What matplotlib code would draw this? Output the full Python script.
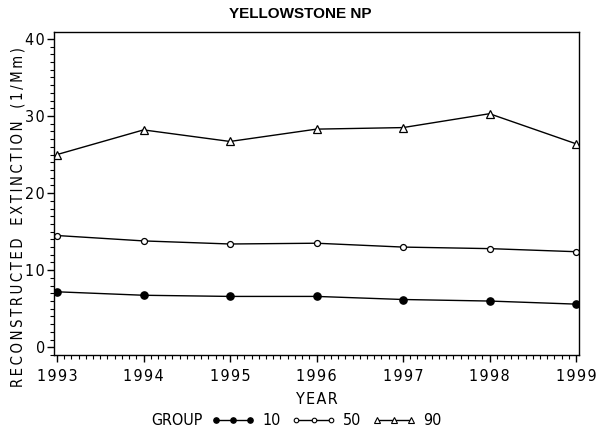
import numpy as np
import matplotlib
matplotlib.use("Agg")
import matplotlib.pyplot as plt
from matplotlib.ticker import MultipleLocator
from matplotlib.lines import Line2D

years = [1993, 1994, 1995, 1996, 1997, 1998, 1999]
group_10 = [7.2, 6.75, 6.6, 6.6, 6.2, 6.0, 5.6]
group_50 = [14.5, 13.8, 13.4, 13.5, 13.0, 12.8, 12.4]
group_90 = [25.0, 28.2, 26.7, 28.3, 28.5, 30.3, 26.4]
groups = ['10', '50', '90']
yticks = [0, 10, 20, 30, 40]

lab = dict(family='DejaVu Sans', fontsize=11.5, fontstretch='condensed')
thin = '\u2009'
hair = '\u200a'

fig = plt.figure(figsize=(6, 4.3), dpi=100)
ax = fig.add_axes([0.09, 0.1744, 0.875, 0.7512])

ax.plot(years, group_10, color='black', lw=1, marker='o', ms=5.2,
        mfc='black', mec='black')
ax.plot(years, group_50, color='black', lw=1, marker='o', ms=4.3,
        mfc='white', mec='black', mew=0.9)
ax.plot(years, group_90, color='black', lw=1, marker='^', ms=5.5,
        mfc='white', mec='black', mew=0.9)

ax.set_xlim(1993 - 3 / 86.5, 1999 + 3 / 86.5)
ax.set_ylim(-1.0, 40.9)
ax.set_xticks(years)
ax.set_yticks(yticks)
ax.xaxis.set_minor_locator(MultipleLocator(1 / 12))
ax.yaxis.set_minor_locator(MultipleLocator(1))
ax.tick_params(which='major', direction='out', length=5, width=1, color='black')
ax.tick_params(which='minor', direction='out', length=3, width=0.8, color='black')
ax.tick_params(axis='x', which='major', pad=5)
ax.tick_params(axis='y', which='major', pad=1.5)
ax.set_xticklabels([hair.join(str(y)) for y in years], **lab)
ax.set_yticklabels([hair.join(str(v)) for v in yticks], **lab)
for sp in ax.spines.values():
    sp.set_linewidth(1)

ax.set_xlabel(hair.join('YEAR'), labelpad=6, **lab)
ylab = '   '.join(thin.join(w) for w in ['RECONSTRUCTED', 'EXTINCTION', '(1/Mm)'])
ax.set_ylabel(ylab, family='DejaVu Sans', fontsize=10.6, fontstretch='condensed')
ax.yaxis.set_label_coords(-0.055, 0.427)
fig.text(0.5, 0.968, 'YELLOWSTONE NP', ha='center', va='center',
         fontsize=11, fontweight='bold', family='Liberation Sans')

fig.text(0.252, 0.021, 'GROUP', ha='left', va='center', **lab)
handles = [
    Line2D([], [], color='black', lw=1, marker='o', ms=3.8, mfc='black', mec='black'),
    Line2D([], [], color='black', lw=1, marker='o', ms=3.3, mfc='white', mec='black', mew=0.8),
    Line2D([], [], color='black', lw=1, marker='^', ms=4, mfc='white', mec='black', mew=0.8),
]
fig.legend(handles, groups, loc='center left',
           bbox_to_anchor=(211 / 600, 0.021), ncol=3, numpoints=3, frameon=False,
           borderpad=0, borderaxespad=0,
           handlelength=2.75, handletextpad=0.45, columnspacing=0.7,
           prop={'family': 'DejaVu Sans', 'size': 11.5, 'stretch': 'condensed'})

fig.savefig('out.png', dpi=100)
